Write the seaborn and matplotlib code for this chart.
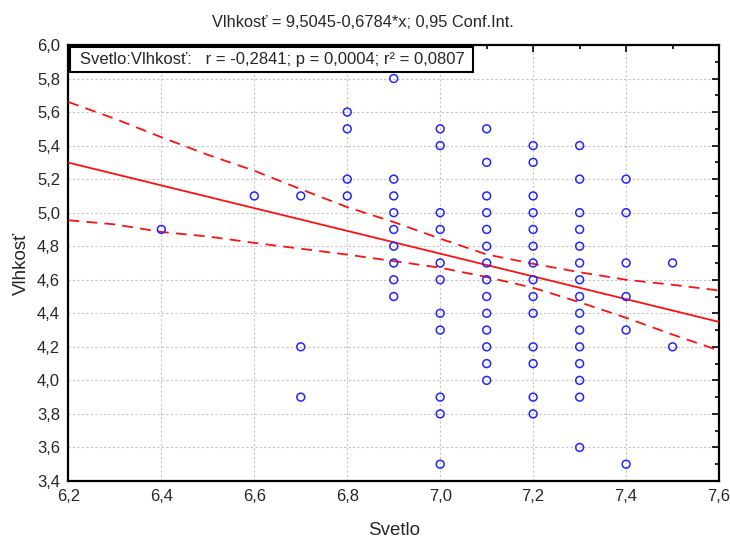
"""Scatter of Vlhkost vs Svetlo with linear fit and 95 % confidence band."""

import matplotlib

matplotlib.use("Agg")

import matplotlib.pyplot as plt
import pandas as pd
import seaborn as sns
from matplotlib.patches import Rectangle
from matplotlib.ticker import FixedLocator, MultipleLocator


# observed points (duplicates overlap in the original, only visible ones kept)
svetlo = (
    [6.4, 6.6]
    + [6.7] * 3
    + [6.8] * 4
    + [6.9] * 9
    + [7.0] * 11
    + [7.1] * 14
    + [7.2] * 14
    + [7.3] * 15
    + [7.4] * 6
    + [7.5] * 2
)
vlhkost = (
    [4.9, 5.1]
    + [5.1, 4.2, 3.9]
    + [5.6, 5.5, 5.2, 5.1]
    + [5.8, 5.2, 5.1, 5.0, 4.9, 4.8, 4.7, 4.6, 4.5]
    + [5.5, 5.4, 5.0, 4.9, 4.7, 4.6, 4.4, 4.3, 3.9, 3.8, 3.5]
    + [5.5, 5.3, 5.1, 5.0, 4.9, 4.8, 4.7, 4.6, 4.5, 4.4, 4.3, 4.2, 4.1, 4.0]
    + [5.4, 5.3, 5.1, 5.0, 4.9, 4.8, 4.7, 4.6, 4.5, 4.4, 4.2, 4.1, 3.9, 3.8]
    + [5.4, 5.2, 5.0, 4.9, 4.8, 4.7, 4.6, 4.5, 4.4, 4.3, 4.2, 4.1, 4.0, 3.9, 3.6]
    + [5.2, 5.0, 4.7, 4.5, 4.3, 3.5]
    + [4.7, 4.2]
)

# fit as printed in the title
INTERCEPT = 9.5045
SLOPE = -0.6784
fit_x = [6.2, 7.6]

# confidence band
ci_x = [6.2, 6.3, 6.4, 6.5, 6.6, 6.7, 6.8, 6.9, 7.0, 7.1, 7.2, 7.3, 7.4, 7.5, 7.6]
ci_upper = [5.66, 5.56, 5.45, 5.345, 5.25, 5.14, 5.033, 4.944, 4.845, 4.751, 4.695, 4.645, 4.60, 4.57, 4.536]
ci_lower = [4.955, 4.93, 4.885, 4.858, 4.82, 4.785, 4.75, 4.711, 4.672, 4.616, 4.552, 4.466, 4.373, 4.273, 4.178]

x_ticks = [6.2, 6.4, 6.6, 6.8, 7.0, 7.2, 7.4, 7.6]
x_tick_labels = ["6,2", "6,4", "6,6", "6,8", "7,0", "7,2", "7,4", "7,6"]
y_ticks = [3.4, 3.6, 3.8, 4.0, 4.2, 4.4, 4.6, 4.8, 5.0, 5.2, 5.4, 5.6, 5.8, 6.0]
y_tick_labels = ["3,4", "3,6", "3,8", "4,0", "4,2", "4,4", "4,6", "4,8", "5,0", "5,2", "5,4", "5,6", "5,8", "6,0"]

TITLE = "Vlhkosť = 9,5045-0,6784*x; 0,95 Conf.Int."
STATS_TEXT = "Svetlo:Vlhkosť:   r = -0,2841; p = 0,0004; r² = 0,0807"


def main() -> None:
    sns.set_theme(style="white")
    plt.rcParams["font.family"] = ["Liberation Sans", "DejaVu Sans"]

    df = pd.DataFrame({"Svetlo": svetlo, "Vlhkost": vlhkost})

    fig, ax = plt.subplots(figsize=(7.3, 5.4), dpi=100)
    fig.subplots_adjust(left=0.0937, right=0.985, top=0.9167, bottom=0.1093)

    ax.set_xlim(6.2, 7.6)
    ax.set_ylim(3.4, 6.0)

    ax.grid(True, which="major", color="#c4c4c4", linestyle=(0, (2, 2)), linewidth=0.8)
    ax.set_axisbelow(True)

    fit_y = [INTERCEPT + SLOPE * x for x in fit_x]
    ax.plot(fit_x, fit_y, color="#ff1010", linewidth=1.3, zorder=3)
    ax.plot(ci_x, ci_upper, color="#ff1010", linewidth=1.3, dashes=(6, 4), zorder=3)
    ax.plot(ci_x, ci_lower, color="#ff1010", linewidth=1.3, dashes=(6, 4), zorder=3)

    sns.scatterplot(
        data=df,
        x="Svetlo",
        y="Vlhkost",
        ax=ax,
        marker="o",
        s=32,
        facecolor="none",
        edgecolor="#2424ff",
        linewidth=1.1,
        zorder=4,
    )

    ax.xaxis.set_major_locator(FixedLocator(x_ticks))
    ax.set_xticklabels(x_tick_labels)
    ax.yaxis.set_major_locator(FixedLocator(y_ticks))
    ax.set_yticklabels(y_tick_labels)
    ax.xaxis.set_minor_locator(MultipleLocator(0.1))
    ax.yaxis.set_minor_locator(MultipleLocator(0.1))
    ax.tick_params(which="both", direction="in", top=True, right=True, color="black", width=1.2)
    ax.tick_params(which="major", length=5, labelsize=12, pad=6)
    ax.tick_params(which="minor", length=3)

    for spine in ax.spines.values():
        spine.set_color("black")
        spine.set_linewidth(1.6)

    ax.set_xlabel("Svetlo", fontsize=13.5, labelpad=13)
    ax.set_ylabel("Vlhkosť", fontsize=13.5, labelpad=5)
    fig.suptitle(TITLE, x=0.497, y=0.973, va="top", fontsize=11.8)

    ax.add_patch(
        Rectangle(
            (0.003, 0.938),
            0.619,
            0.057,
            transform=ax.transAxes,
            facecolor="white",
            edgecolor="black",
            linewidth=1.5,
            zorder=5,
        )
    )
    ax.text(0.018, 0.967, STATS_TEXT, transform=ax.transAxes, fontsize=12, va="center", ha="left", zorder=6)

    fig.savefig("out.png", dpi=100)
    plt.close(fig)


if __name__ == "__main__":
    main()
